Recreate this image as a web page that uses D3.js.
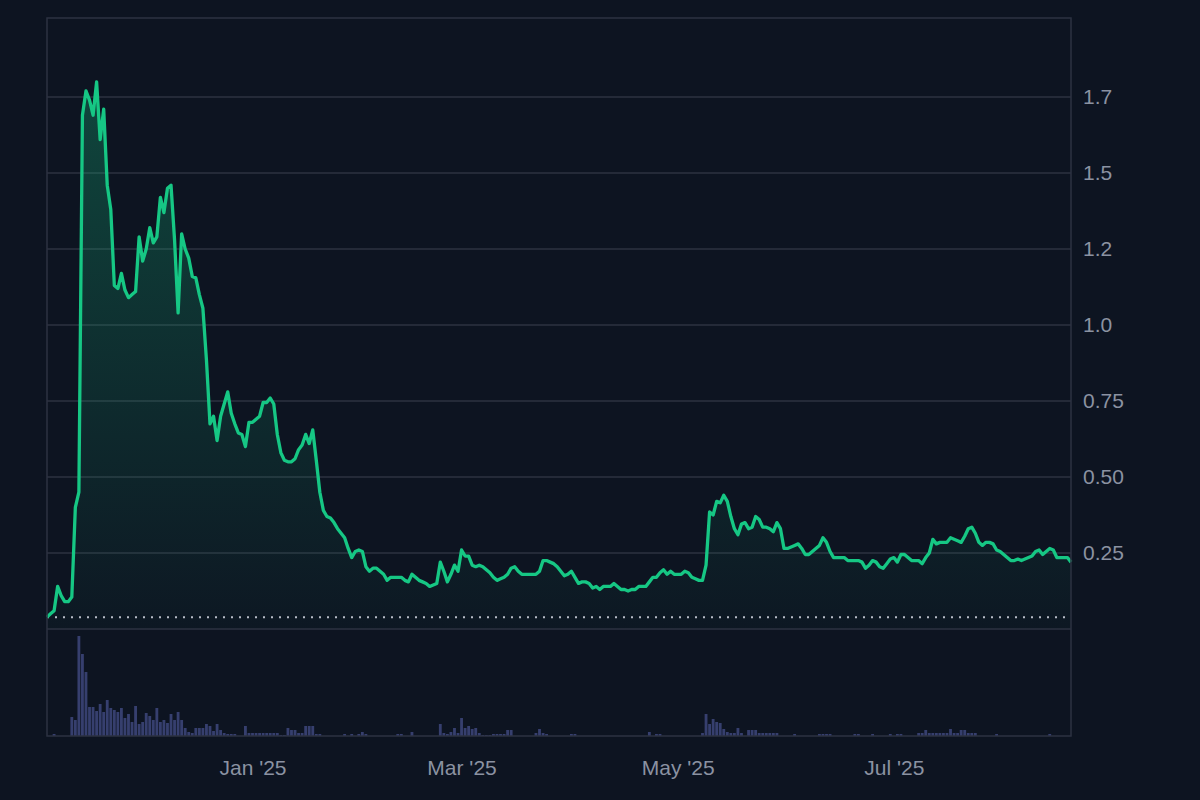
<meta charset="UTF-8">
<script src="https://d3js.org/d3.v7.min.js"></script>
<style>
  body { margin: 0; background: #0d1421; }
  text { font-family: "Liberation Sans", Arial, sans-serif; }
</style>
<div id="chart"></div>
<script>
// daily series, first day = 4 Nov 2024
const startDay = "2024-11-04";

const prices = [
  0.039,0.05,0.06,0.14,0.11,0.09,0.09,0.105,0.40,0.45,
  1.69,1.77,1.74,1.69,1.80,1.61,1.71,1.46,1.38,1.13,
  1.12,1.17,1.115,1.09,1.10,1.11,1.29,1.21,1.25,1.32,
  1.27,1.29,1.42,1.37,1.45,1.46,1.28,1.04,1.30,1.25,
  1.22,1.16,1.155,1.10,1.055,0.885,0.675,0.70,0.62,0.70,
  0.74,0.78,0.71,0.675,0.645,0.64,0.60,0.68,0.68,0.69,
  0.70,0.745,0.745,0.76,0.74,0.64,0.58,0.555,0.55,0.55,
  0.56,0.59,0.605,0.64,0.61,0.655,0.555,0.45,0.39,0.37,
  0.365,0.35,0.33,0.315,0.30,0.265,0.235,0.255,0.26,0.255,
  0.205,0.19,0.20,0.20,0.19,0.18,0.16,0.17,0.17,0.17,
  0.17,0.16,0.155,0.18,0.17,0.16,0.155,0.15,0.14,0.145,
  0.15,0.22,0.19,0.155,0.18,0.21,0.19,0.26,0.24,0.24,
  0.21,0.205,0.21,0.205,0.195,0.185,0.17,0.16,0.165,0.17,
  0.18,0.20,0.205,0.19,0.18,0.18,0.18,0.18,0.18,0.19,
  0.225,0.225,0.22,0.215,0.205,0.19,0.175,0.18,0.19,0.17,
  0.15,0.155,0.155,0.15,0.135,0.14,0.13,0.14,0.14,0.14,
  0.15,0.14,0.13,0.13,0.125,0.13,0.13,0.14,0.14,0.14,
  0.155,0.17,0.17,0.185,0.195,0.18,0.19,0.18,0.18,0.18,
  0.19,0.185,0.17,0.165,0.16,0.16,0.21,0.385,0.375,0.42,
  0.415,0.44,0.42,0.37,0.33,0.31,0.345,0.35,0.33,0.335,
  0.37,0.36,0.335,0.335,0.33,0.32,0.35,0.33,0.265,0.265,
  0.27,0.275,0.28,0.265,0.245,0.245,0.255,0.265,0.275,0.30,
  0.285,0.255,0.235,0.235,0.235,0.235,0.225,0.225,0.225,0.225,
  0.22,0.20,0.21,0.225,0.22,0.205,0.20,0.215,0.23,0.235,
  0.22,0.245,0.245,0.235,0.225,0.225,0.225,0.215,0.235,0.25,
  0.295,0.28,0.285,0.285,0.285,0.30,0.295,0.29,0.285,0.305,
  0.33,0.335,0.315,0.285,0.275,0.285,0.285,0.28,0.26,0.255,
  0.245,0.235,0.225,0.225,0.23,0.225,0.23,0.235,0.24,0.255,
  0.26,0.245,0.255,0.265,0.26,0.235,0.235,0.235,0.235,0.22
];

const volumes = [
  0,0,2,0,0,0,0,19,16,100,
  82,64,29,29,25,32,24,36,28,26,
  24,28,18,22,14,30,12,14,23,20,
  16,28,14,16,13,22,16,24,16,8,
  4,3,8,8,8,12,10,5,12,6,
  3,2,2,2,0,0,10,3,3,3,
  3,3,3,3,3,3,1,1,8,6,
  6,3,3,10,10,10,2,2,0,0,
  0,0,0,0,2,0,2,0,2,4,
  2,0,0,0,0,0,0,0,0,2,
  2,0,0,4,0,0,0,0,0,0,
  0,12,3,2,4,8,3,18,8,10,
  7,8,3,1,1,1,2,2,2,2,
  6,6,0,0,0,0,0,0,3,7,
  3,2,0,0,0,0,0,0,2,2,
  0,0,0,0,0,0,0,0,0,0,
  0,0,0,0,0,0,0,0,0,0,
  4,0,2,2,0,0,0,0,0,0,
  0,0,0,0,0,3,22,12,17,14,
  13,7,4,3,3,8,3,0,6,6,
  6,3,3,3,3,3,3,0,0,0,
  0,2,0,0,0,0,0,0,2,2,
  2,2,0,0,0,0,0,0,2,2,
  0,0,0,2,0,0,0,0,2,0,
  2,2,0,0,0,0,3,3,6,3,
  3,3,3,3,3,7,3,3,6,6,
  3,3,3,0,0,0,0,0,2,0,
  0,0,0,0,0,0,0,0,0,0,
  0,0,0,2,0,0,0,0,0,0
];

const yTicks = [0.25, 0.5, 0.75, 1.0, 1.25, 1.5, 1.75];
const yTickLabels = ["0.25", "0.50", "0.75", "1.0", "1.2", "1.5", "1.7"];
const xTicks = ["2025-01-01", "2025-03-01", "2025-05-01", "2025-07-01"];
const xTickLabels = ["Jan '25", "Mar '25", "May '25", "Jul '25"];

const width = 1200, height = 800;
const plotLeft = 47, plotRight = 1071, plotTop = 18, priceBottom = 629, volBottom = 736;

const parse = d3.timeParse("%Y-%m-%d");
const start = parse(startDay);
const data = prices.map(function(p, i) {
  return { date: d3.timeDay.offset(start, i), price: p, vol: volumes[i] };
});

const svg = d3.select("#chart").append("svg")
  .attr("width", width)
  .attr("height", height)
  .style("display", "block")
  .style("background", "#0d1421");

const x = d3.scaleTime()
  .domain(d3.extent(data, function(d) { return d.date; }))
  .range([plotLeft, plotRight]);

const y = d3.scaleLinear()
  .domain([0, 2])
  .range([priceBottom, 21]);

const yVol = d3.scaleLinear()
  .domain([0, d3.max(volumes) * 1.07])
  .range([volBottom, priceBottom]);

// gradient for the area under the line
const grad = svg.append("defs").append("linearGradient")
  .attr("id", "fade")
  .attr("gradientUnits", "userSpaceOnUse")
  .attr("x1", 0).attr("x2", 0)
  .attr("y1", y(d3.max(prices))).attr("y2", priceBottom);
grad.append("stop").attr("offset", "0%").attr("stop-color", "#16c784").attr("stop-opacity", 0.28);
grad.append("stop").attr("offset", "100%").attr("stop-color", "#16c784").attr("stop-opacity", 0.02);

// gridlines
svg.append("g")
  .selectAll("line")
  .data(yTicks)
  .enter()
  .append("line")
    .attr("x1", plotLeft).attr("x2", plotRight)
    .attr("y1", function(d) { return y(d); })
    .attr("y2", function(d) { return y(d); })
    .attr("stroke", "#2c3240")
    .attr("stroke-width", 1.5);

// volume bars
const bw = (x(data[1].date) - x(data[0].date)) * 0.8;
svg.append("g")
  .selectAll("rect")
  .data(data.filter(function(d) { return d.vol > 0; }))
  .enter()
  .append("rect")
    .attr("x", function(d) { return x(d.date) - bw / 2; })
    .attr("y", function(d) { return yVol(d.vol); })
    .attr("width", bw)
    .attr("height", function(d) { return volBottom - yVol(d.vol); })
    .attr("fill", "#363f6e");

// area + line
svg.append("path")
  .datum(data)
  .attr("fill", "url(#fade)")
  .attr("d", d3.area()
    .x(function(d) { return x(d.date); })
    .y0(priceBottom)
    .y1(function(d) { return y(d.price); }));

// start price reference
svg.append("line")
  .attr("x1", plotLeft).attr("x2", plotRight)
  .attr("y1", y(prices[0])).attr("y2", y(prices[0]))
  .attr("stroke", "#b8bdc8")
  .attr("stroke-width", 2)
  .attr("stroke-dasharray", "2,6");

svg.append("path")
  .datum(data)
  .attr("fill", "none")
  .attr("stroke", "#16c784")
  .attr("stroke-width", 3.3)
  .attr("stroke-linejoin", "round")
  .attr("d", d3.line()
    .x(function(d) { return x(d.date); })
    .y(function(d) { return y(d.price); }));

// frame
const frame = svg.append("g").attr("fill", "none").attr("stroke", "#2c3242").attr("stroke-width", 1.5);
frame.append("rect").attr("x", plotLeft).attr("y", plotTop).attr("width", plotRight - plotLeft).attr("height", volBottom - plotTop);
frame.append("line").attr("x1", plotLeft).attr("x2", plotRight).attr("y1", priceBottom).attr("y2", priceBottom);

// axes
svg.append("g")
  .attr("transform", "translate(" + plotRight + ",0)")
  .call(d3.axisRight(y)
    .tickValues(yTicks)
    .tickFormat(function(d, i) { return yTickLabels[i]; })
    .tickSize(0)
    .tickPadding(12));

svg.append("g")
  .attr("transform", "translate(0," + volBottom + ")")
  .call(d3.axisBottom(x)
    .tickValues(xTicks.map(parse))
    .tickFormat(function(d, i) { return xTickLabels[i]; })
    .tickSize(0)
    .tickPadding(24));

svg.selectAll(".domain").remove();
svg.selectAll(".tick text")
  .style("font-family", "'Liberation Sans', Arial, sans-serif")
  .style("font-size", "21px")
  .attr("fill", "#8b92a1");
</script>
